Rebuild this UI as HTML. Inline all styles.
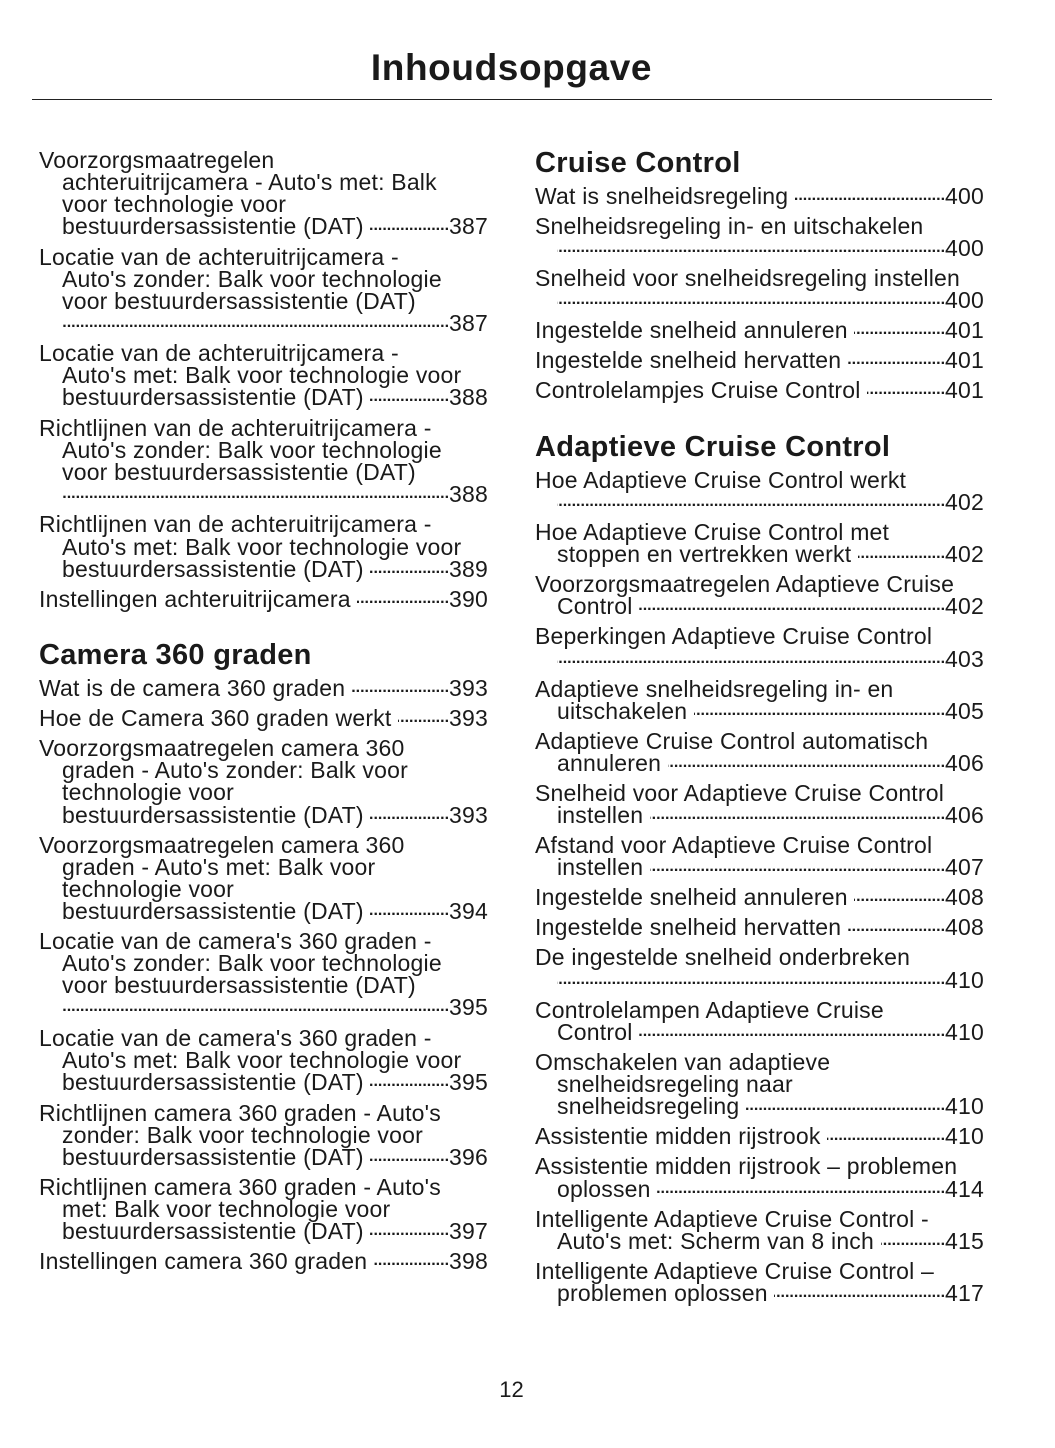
<!DOCTYPE html>
<html><head><meta charset="utf-8">
<style>
body{margin:0;background:#fff;}
#p{position:relative;width:1055px;height:1448px;overflow:hidden;font-family:"Liberation Sans",sans-serif;color:#1a1a1a;}
.l{position:absolute;height:22px;line-height:22px;font-size:23px;letter-spacing:0.2px;white-space:nowrap;display:flex;margin-top:-1px;}
.a{left:39px;width:449px}.ai{left:62px;width:426px}
.b{left:535px;width:449px}.bi{left:557px;width:427px}
.d{flex:1;overflow:hidden;font-size:16px;letter-spacing:0px;font-weight:bold;text-align:right;direction:rtl;}
.d::before{content:"..................................................................................................................................................................................................";}
.h{position:absolute;font-weight:bold;font-size:29px;line-height:30px;white-space:nowrap;letter-spacing:0.3px;}
</style></head><body><div id="p">
<div style="position:absolute;top:46px;left:0;width:1023px;text-align:center;font-weight:bold;font-size:37px;line-height:44px;letter-spacing:0.6px;">Inhoudsopgave</div>
<div style="position:absolute;top:99px;left:32px;width:960px;height:1px;background:#222"></div>

<div class="l a" style="top:150px">Voorzorgsmaatregelen</div>
<div class="l ai" style="top:172px">achteruitrijcamera - Auto's met: Balk</div>
<div class="l ai" style="top:194px">voor technologie voor</div>
<div class="l ai" style="top:216px"><span>bestuurdersassistentie (DAT)&nbsp;</span><span class="d"></span><span>387</span></div>
<div class="l a" style="top:247px">Locatie van de achteruitrijcamera -</div>
<div class="l ai" style="top:269px">Auto's zonder: Balk voor technologie</div>
<div class="l ai" style="top:291px">voor bestuurdersassistentie (DAT)</div>
<div class="l ai" style="top:313px"><span class="d"></span><span>387</span></div>
<div class="l a" style="top:343px">Locatie van de achteruitrijcamera -</div>
<div class="l ai" style="top:365px">Auto's met: Balk voor technologie voor</div>
<div class="l ai" style="top:387px"><span>bestuurdersassistentie (DAT)&nbsp;</span><span class="d"></span><span>388</span></div>
<div class="l a" style="top:418px">Richtlijnen van de achteruitrijcamera -</div>
<div class="l ai" style="top:440px">Auto's zonder: Balk voor technologie</div>
<div class="l ai" style="top:462px">voor bestuurdersassistentie (DAT)</div>
<div class="l ai" style="top:484px"><span class="d"></span><span>388</span></div>
<div class="l a" style="top:514px">Richtlijnen van de achteruitrijcamera -</div>
<div class="l ai" style="top:537px">Auto's met: Balk voor technologie voor</div>
<div class="l ai" style="top:559px"><span>bestuurdersassistentie (DAT)&nbsp;</span><span class="d"></span><span>389</span></div>
<div class="l a" style="top:589px"><span>Instellingen achteruitrijcamera&nbsp;</span><span class="d"></span><span>390</span></div>
<div class="h" style="top:640px;left:39px">Camera 360 graden</div>
<div class="l a" style="top:678px"><span>Wat is de camera 360 graden&nbsp;</span><span class="d"></span><span>393</span></div>
<div class="l a" style="top:708px"><span>Hoe de Camera 360 graden werkt&nbsp;</span><span class="d"></span><span>393</span></div>
<div class="l a" style="top:738px">Voorzorgsmaatregelen camera 360</div>
<div class="l ai" style="top:760px">graden - Auto's zonder: Balk voor</div>
<div class="l ai" style="top:782px">technologie voor</div>
<div class="l ai" style="top:805px"><span>bestuurdersassistentie (DAT)&nbsp;</span><span class="d"></span><span>393</span></div>
<div class="l a" style="top:835px">Voorzorgsmaatregelen camera 360</div>
<div class="l ai" style="top:857px">graden - Auto's met: Balk voor</div>
<div class="l ai" style="top:879px">technologie voor</div>
<div class="l ai" style="top:901px"><span>bestuurdersassistentie (DAT)&nbsp;</span><span class="d"></span><span>394</span></div>
<div class="l a" style="top:931px">Locatie van de camera's 360 graden -</div>
<div class="l ai" style="top:953px">Auto's zonder: Balk voor technologie</div>
<div class="l ai" style="top:975px">voor bestuurdersassistentie (DAT)</div>
<div class="l ai" style="top:997px"><span class="d"></span><span>395</span></div>
<div class="l a" style="top:1028px">Locatie van de camera's 360 graden -</div>
<div class="l ai" style="top:1050px">Auto's met: Balk voor technologie voor</div>
<div class="l ai" style="top:1072px"><span>bestuurdersassistentie (DAT)&nbsp;</span><span class="d"></span><span>395</span></div>
<div class="l a" style="top:1103px">Richtlijnen camera 360 graden - Auto's</div>
<div class="l ai" style="top:1125px">zonder: Balk voor technologie voor</div>
<div class="l ai" style="top:1147px"><span>bestuurdersassistentie (DAT)&nbsp;</span><span class="d"></span><span>396</span></div>
<div class="l a" style="top:1177px">Richtlijnen camera 360 graden - Auto's</div>
<div class="l ai" style="top:1199px">met: Balk voor technologie voor</div>
<div class="l ai" style="top:1221px"><span>bestuurdersassistentie (DAT)&nbsp;</span><span class="d"></span><span>397</span></div>
<div class="l a" style="top:1251px"><span>Instellingen camera 360 graden&nbsp;</span><span class="d"></span><span>398</span></div>

<div class="h" style="top:148px;left:535px">Cruise Control</div>
<div class="l b" style="top:186px"><span>Wat is snelheidsregeling&nbsp;</span><span class="d"></span><span>400</span></div>
<div class="l b" style="top:216px">Snelheidsregeling in- en uitschakelen</div>
<div class="l bi" style="top:238px"><span class="d"></span><span>400</span></div>
<div class="l b" style="top:268px">Snelheid voor snelheidsregeling instellen</div>
<div class="l bi" style="top:290px"><span class="d"></span><span>400</span></div>
<div class="l b" style="top:320px"><span>Ingestelde snelheid annuleren&nbsp;</span><span class="d"></span><span>401</span></div>
<div class="l b" style="top:350px"><span>Ingestelde snelheid hervatten&nbsp;</span><span class="d"></span><span>401</span></div>
<div class="l b" style="top:380px"><span>Controlelampjes Cruise Control&nbsp;</span><span class="d"></span><span>401</span></div>
<div class="h" style="top:432px;left:535px">Adaptieve Cruise Control</div>
<div class="l b" style="top:470px">Hoe Adaptieve Cruise Control werkt</div>
<div class="l bi" style="top:492px"><span class="d"></span><span>402</span></div>
<div class="l b" style="top:522px">Hoe Adaptieve Cruise Control met</div>
<div class="l bi" style="top:544px"><span>stoppen en vertrekken werkt&nbsp;</span><span class="d"></span><span>402</span></div>
<div class="l b" style="top:574px">Voorzorgsmaatregelen Adaptieve Cruise</div>
<div class="l bi" style="top:596px"><span>Control&nbsp;</span><span class="d"></span><span>402</span></div>
<div class="l b" style="top:626px">Beperkingen Adaptieve Cruise Control</div>
<div class="l bi" style="top:649px"><span class="d"></span><span>403</span></div>
<div class="l b" style="top:679px">Adaptieve snelheidsregeling in- en</div>
<div class="l bi" style="top:701px"><span>uitschakelen&nbsp;</span><span class="d"></span><span>405</span></div>
<div class="l b" style="top:731px">Adaptieve Cruise Control automatisch</div>
<div class="l bi" style="top:753px"><span>annuleren&nbsp;</span><span class="d"></span><span>406</span></div>
<div class="l b" style="top:783px">Snelheid voor Adaptieve Cruise Control</div>
<div class="l bi" style="top:805px"><span>instellen&nbsp;</span><span class="d"></span><span>406</span></div>
<div class="l b" style="top:835px">Afstand voor Adaptieve Cruise Control</div>
<div class="l bi" style="top:857px"><span>instellen&nbsp;</span><span class="d"></span><span>407</span></div>
<div class="l b" style="top:887px"><span>Ingestelde snelheid annuleren&nbsp;</span><span class="d"></span><span>408</span></div>
<div class="l b" style="top:917px"><span>Ingestelde snelheid hervatten&nbsp;</span><span class="d"></span><span>408</span></div>
<div class="l b" style="top:947px">De ingestelde snelheid onderbreken</div>
<div class="l bi" style="top:970px"><span class="d"></span><span>410</span></div>
<div class="l b" style="top:1000px">Controlelampen Adaptieve Cruise</div>
<div class="l bi" style="top:1022px"><span>Control&nbsp;</span><span class="d"></span><span>410</span></div>
<div class="l b" style="top:1052px">Omschakelen van adaptieve</div>
<div class="l bi" style="top:1074px">snelheidsregeling naar</div>
<div class="l bi" style="top:1096px"><span>snelheidsregeling&nbsp;</span><span class="d"></span><span>410</span></div>
<div class="l b" style="top:1126px"><span>Assistentie midden rijstrook&nbsp;</span><span class="d"></span><span>410</span></div>
<div class="l b" style="top:1156px">Assistentie midden rijstrook – problemen</div>
<div class="l bi" style="top:1179px"><span>oplossen&nbsp;</span><span class="d"></span><span>414</span></div>
<div class="l b" style="top:1209px">Intelligente Adaptieve Cruise Control -</div>
<div class="l bi" style="top:1231px"><span>Auto's met: Scherm van 8 inch&nbsp;</span><span class="d"></span><span>415</span></div>
<div class="l b" style="top:1261px">Intelligente Adaptieve Cruise Control –</div>
<div class="l bi" style="top:1283px"><span>problemen oplossen&nbsp;</span><span class="d"></span><span>417</span></div>

<div style="position:absolute;top:1378px;left:0;width:1023px;text-align:center;font-size:22px;line-height:24px;">12</div>
</div></body></html>
